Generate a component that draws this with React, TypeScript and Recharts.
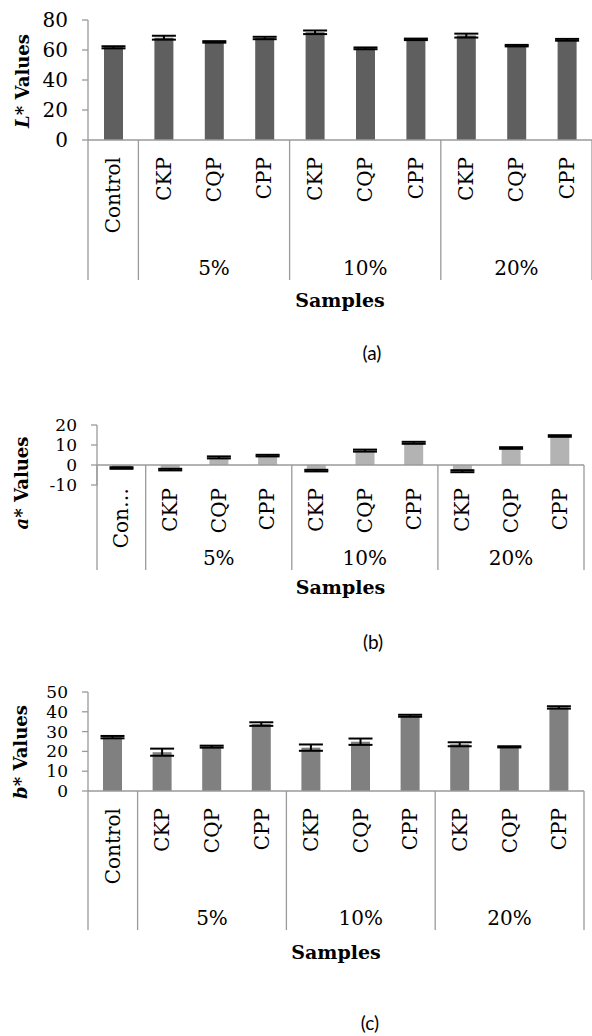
import { BarChart, Bar, XAxis, YAxis, ErrorBar, ReferenceLine } from 'recharts'

const categories = ['Control', 'CKP', 'CQP', 'CPP', 'CKP', 'CQP', 'CPP', 'CKP', 'CQP', 'CPP']
const categoriesB = ['Con…', 'CKP', 'CQP', 'CPP', 'CKP', 'CQP', 'CPP', 'CKP', 'CQP', 'CPP']
const groupLabels = ['5%', '10%', '20%']
const groupStarts = [1, 4, 7]

const lValues = [61.8, 68.2, 65.4, 68.0, 71.8, 61.1, 67.1, 69.6, 62.9, 66.8]
const lErrors = [0.7, 1.3, 0.5, 0.8, 1.2, 0.6, 0.5, 1.3, 0.5, 0.6]
const lTicks = [0, 20, 40, 60, 80]

const aValues = [-1.5, -2.3, 3.8, 4.7, -2.8, 7.2, 11.1, -3.1, 8.5, 14.5]
const aErrors = [0.4, 0.4, 0.5, 0.4, 0.4, 0.5, 0.5, 0.5, 0.4, 0.4]
const aTicks = [-10, 0, 10, 20]

const bValues = [27.2, 19.6, 22.4, 33.8, 21.9, 24.9, 38.0, 23.6, 22.3, 42.2]
const bErrors = [0.6, 1.8, 0.5, 0.9, 1.6, 1.6, 0.5, 1.0, 0.3, 0.6]
const bTicks = [0, 10, 20, 30, 40, 50]

const SERIF = '"DejaVu Serif", serif'
const AXIS = '#9a9a9a'

type Layout = {
  top: number
  height: number
  left: number
  right: number
  plotHeight: number
  tickFont: number
  yTitle: [number, number]
  samplesY: number
  labelTop: number
  groupY: number
  sepBottom: number
  caption: [number, number]
}

const layoutA: Layout = {
  top: 0, height: 340, left: 88, right: 0, plotHeight: 120, tickFont: 20,
  yTitle: [22, 81], samplesY: 300, labelTop: 17, groupY: 128, sepBottom: 140, caption: [372, 353],
}
const layoutB: Layout = {
  top: 405, height: 205, left: 97, right: 8, plotHeight: 60, tickFont: 17,
  yTitle: [21, 78], samplesY: 182, labelTop: 3, groupY: 73, sepBottom: 85, caption: [373, 642],
}
const layoutC: Layout = {
  top: 672, height: 300, left: 88, right: 8, plotHeight: 99, tickFont: 17,
  yTitle: [20, 80], samplesY: 280, labelTop: 17, groupY: 127, sepBottom: 139, caption: [370, 1023],
}

const WIDTH = 592
const MARGIN_TOP = 20

type Props = {
  values: number[]
  errors: number[]
  labels: string[]
  ticks: number[]
  fill: string
  letter: string
  caption: string
  layout: Layout
}

function PanelChart({ values, errors, labels, ticks, fill, letter, caption, layout }: Props) {
  const data = values.map((v, i) => ({ key: 'k' + i, value: v, err: errors[i] }))
  const domain = [ticks[0], ticks[ticks.length - 1]]
  const plotWidth = WIDTH - layout.left - layout.right
  const band = plotWidth / labels.length
  const zeroOffset = (layout.plotHeight * (0 - domain[0])) / (domain[1] - domain[0])
  const plotMidX = layout.left + plotWidth / 2

  const renderTick = (props: any) => {
    const { x, y, index } = props
    const ly = y + layout.labelTop
    const items = [
      <text
        key="t"
        x={x}
        y={ly}
        transform={`rotate(-90 ${x} ${ly})`}
        textAnchor="end"
        dominantBaseline="central"
        fontFamily={SERIF}
        fontSize={20}
        fill="#000"
      >
        {labels[index]}
      </text>,
    ]
    if (index === 0 || groupStarts.includes(index)) {
      items.push(
        <line key="s" x1={x - band / 2} x2={x - band / 2} y1={y - zeroOffset} y2={y + layout.sepBottom} stroke={AXIS} strokeWidth={1.3} />
      )
    }
    if (index === labels.length - 1) {
      items.push(
        <line key="e" x1={x + band / 2} x2={x + band / 2} y1={y - zeroOffset} y2={y + layout.sepBottom} stroke={AXIS} strokeWidth={1.3} />
      )
    }
    const g = groupStarts.indexOf(index - 1)
    if (g >= 0) {
      items.push(
        <text key="g" x={x} y={y + layout.groupY} textAnchor="middle" dominantBaseline="central" fontFamily={SERIF} fontSize={20} fill="#000">
          {groupLabels[g]}
        </text>
      )
    }
    return <g>{items}</g>
  }

  return (
    <>
      <div style={{ position: 'absolute', left: 0, top: layout.top }}>
        <BarChart
          width={WIDTH}
          height={layout.height}
          data={data}
          margin={{ top: MARGIN_TOP, right: layout.right, left: 0, bottom: 0 }}
        >
          <XAxis
            dataKey="key"
            type="category"
            interval={0}
            height={layout.height - MARGIN_TOP - layout.plotHeight}
            tickLine={false}
            tickSize={0}
            tickMargin={0}
            axisLine={zeroOffset === 0 ? { stroke: AXIS, strokeWidth: 1.3 } : false}
            tick={renderTick}
            label={() => (
              <text x={plotMidX} y={layout.samplesY} textAnchor="middle" dominantBaseline="central" fontFamily={SERIF} fontWeight="bold" fontSize={19} fill="#000">
                Samples
              </text>
            )}
          />
          <YAxis
            type="number"
            domain={domain}
            ticks={ticks}
            interval={0}
            width={layout.left}
            tickSize={6}
            tickMargin={14}
            axisLine={{ stroke: AXIS, strokeWidth: 1.3 }}
            tickLine={{ stroke: AXIS, strokeWidth: 1.3 }}
            tick={{ fill: '#000', fontSize: layout.tickFont, fontFamily: SERIF }}
            label={() => (
              <text
                x={layout.yTitle[0]}
                y={layout.yTitle[1]}
                transform={`rotate(-90 ${layout.yTitle[0]} ${layout.yTitle[1]})`}
                textAnchor="middle"
                dominantBaseline="central"
                fontFamily={SERIF}
                fontWeight="bold"
                fontSize={18}
                fill="#000"
              >
                <tspan fontStyle="italic">{letter}</tspan>
                <tspan>* Values</tspan>
              </text>
            )}
          />
          {zeroOffset !== 0 && <ReferenceLine y={0} stroke={AXIS} strokeWidth={1.3} />}
          <Bar dataKey="value" fill={fill} barSize={19} isAnimationActive={false}>
            <ErrorBar dataKey="err" width={12} strokeWidth={2} stroke="#000" isAnimationActive={false} />
          </Bar>
        </BarChart>
      </div>
      <div
        style={{
          position: 'absolute',
          left: layout.caption[0] - 30,
          top: layout.caption[1] - 12,
          width: 60,
          textAlign: 'center',
          lineHeight: '24px',
          fontFamily: 'Lato, "Open Sans", sans-serif',
          fontSize: 19,
          color: '#000',
        }}
      >
        {caption}
      </div>
    </>
  )
}

export default function App() {
  return (
    <div style={{ position: 'relative', width: 592, height: 1036, background: '#fff', overflow: 'hidden' }}>
      <style>{'body { margin: 0; }'}</style>
      <PanelChart values={lValues} errors={lErrors} labels={categories} ticks={lTicks} fill="#5f5f5f" letter="L" caption="(a)" layout={layoutA} />
      <PanelChart values={aValues} errors={aErrors} labels={categoriesB} ticks={aTicks} fill="#b3b3b3" letter="a" caption="(b)" layout={layoutB} />
      <PanelChart values={bValues} errors={bErrors} labels={categories} ticks={bTicks} fill="#808080" letter="b" caption="(c)" layout={layoutC} />
    </div>
  )
}
